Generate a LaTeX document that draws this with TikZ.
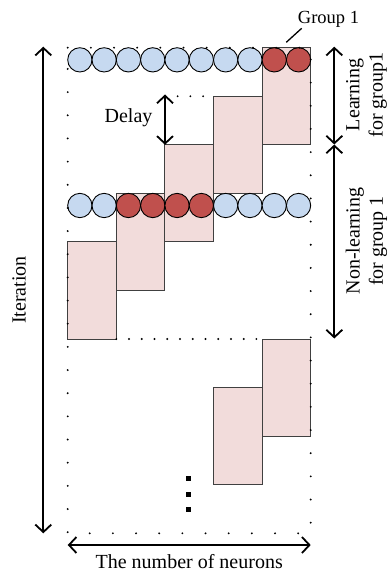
\documentclass[tikz,border=0pt]{standalone}
\usepackage{fontspec}
\setmainfont{Liberation Serif}
\usetikzlibrary{arrows.meta}
\definecolor{cblue}{RGB}{198,217,240}
\definecolor{cred}{RGB}{192,80,77}
\definecolor{cpink}{RGB}{242,220,219}
\definecolor{cgray}{RGB}{64,64,64}
\begin{document}
\begin{tikzpicture}[x=1bp,y=-1bp,
  blk/.style={draw=cgray,line width=0.9bp,fill=cpink},
  neu/.style={circle,draw=black,line width=0.9bp,minimum size=24.3bp,inner sep=0pt},
  bneu/.style={neu,fill=cblue},
  rneu/.style={neu,fill=cred},
  dotfr/.style={line width=2.1bp,line cap=round,dash pattern=on 0pt off 23.16bp},
  dotln/.style={line width=2.1bp,line cap=round,dash pattern=on 0pt off 12.74bp},
  darr/.style={line width=1.8bp,{Straight Barb[length=7.5bp,width=16bp]}-{Straight Barb[length=7.5bp,width=16bp]}},
  lbl/.style={font=\fontsize{20bp}{23.3bp}\selectfont,inner sep=0pt},
  sq/.style={fill=black,minimum size=5bp,inner sep=0pt}]
\useasboundingbox (0,0) rectangle (390,571);
% blocks
\draw[blk] (262.1,47.7) rectangle (310.7,144.8);
\draw[blk] (213.5,96.25) rectangle (262.1,193.35);
\draw[blk] (164.9,144.8) rectangle (213.5,241.9);
\draw[blk] (116.3,193.35) rectangle (164.9,290.45);
\draw[blk] (67.7,241.9) rectangle (116.3,339);
\draw[blk] (262.1,339) rectangle (310.7,436.1);
\draw[blk] (213.5,387.55) rectangle (262.1,484.65);
% neurons row 1
\foreach \i in {0,...,7} \node[bneu] (a\i) at (79.85+24.3*\i,59.85) {};
\foreach \i in {8,9} \node[rneu] (a\i) at (79.85+24.3*\i,59.85) {};
% neurons row 2
\foreach \i in {0,1,6,7,8,9} \node[bneu] (b\i) at (79.85+24.3*\i,205.5) {};
\foreach \i in {2,...,5} \node[rneu] (b\i) at (79.85+24.3*\i,205.5) {};
% dotted frame and lines
\draw[dotfr] (67.7,47.7) -- (310.7,47.7) -- (310.7,533.3) -- (67.7,533.3) -- cycle;
\draw[dotln] (164.9,96.25) -- (213.5,96.25);
\draw[dotln] (116.3,339) -- (262.1,339);
% ellipsis
\node[sq] (e1) at (188.7,478.3) {};
\node[sq] (e2) at (188.7,494) {};
\node[sq] (e3) at (188.7,509.3) {};
% arrows
\coordinate (itT) at (43.3,46.7);
\coordinate (itB) at (43.3,533.3);
\draw[darr] (itT) -- (itB);
\node[lbl,rotate=90] (it) at (19,290) {Iteration};
\coordinate (nL) at (67.7,545);
\coordinate (nR) at (310.7,545);
\draw[darr] (nL) -- (nR);
\node[lbl,anchor=base] (nn) at (189.2,568) {The number of neurons};
\coordinate (rT) at (334.3,46.7);
\coordinate (rM) at (334.3,144.5);
\coordinate (rB) at (334.3,338.5);
\draw[darr] (rT) -- (rM);
\draw[darr] (rM) -- (rB);
\node[lbl,rotate=90,align=center] (lg) at (366.5,95) {Learning\\for group1};
\node[lbl,rotate=90,align=center] (nlg) at (366.5,241) {Non-learning\\for group 1};
\coordinate (dT) at (165,94.5);
\coordinate (dB) at (165,144.8);
\draw[darr] (dT) -- (dB);
\node[lbl] (dl) at (128.5,118) {Delay};
% group label
\node[lbl,anchor=base,font=\fontsize{18.5bp}{21bp}\selectfont] (g1) at (328.5,24) {Group 1};
\coordinate (gA) at (286.3,42.3);
\coordinate (gB) at (301.7,28.3);
\draw[line width=1.3bp] (gA) -- (gB);
\end{tikzpicture}
\end{document}
